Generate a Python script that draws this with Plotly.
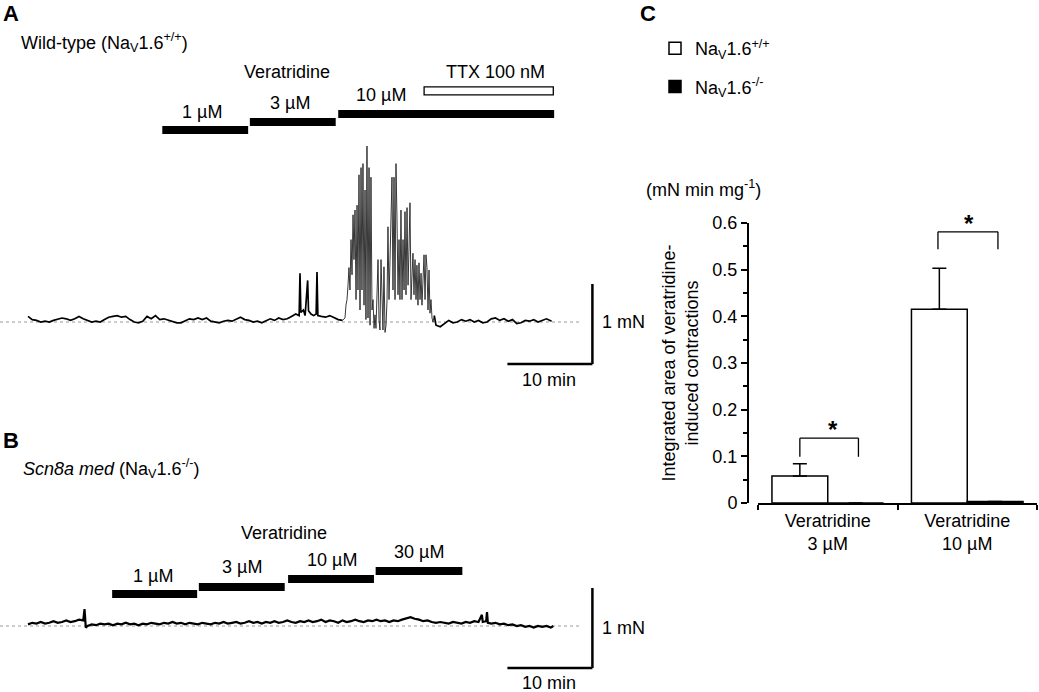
import plotly.graph_objects as go

W, H = 1039, 692
FONT = "Arial, 'Liberation Sans', sans-serif"
FS = 18

# ---------------- Panel A: wild-type force trace (min, mN above baseline)
a_time_rest = [0.0, 0.5, 1.0, 1.5, 2.0, 2.5, 3.0, 3.5, 4.0, 4.5, 5.0, 5.5, 6.0, 6.5, 7.0, 7.5,
               8.0, 8.5, 9.0, 9.5, 10.0, 10.5, 11.0, 11.5, 12.0, 12.5, 13.0, 13.5, 14.0, 14.5,
               15.0, 15.5, 16.0, 16.5, 17.0, 17.5, 18.0, 18.5, 19.0, 19.5, 20.0, 20.5, 21.0,
               21.5, 22.0, 22.5, 23.0, 23.5, 24.0, 24.5, 25.0, 25.5, 26.0, 26.5, 27.0, 27.5,
               28.0, 28.5, 29.0, 29.5, 30.0, 30.5, 31.0, 31.5, 31.9, 32.0, 32.1, 32.4, 32.6,
               32.9, 33.0, 33.3, 33.6, 33.9, 34.0, 34.1, 34.5, 35.0, 35.5, 36.0, 36.5, 37.0]
a_force_rest = [0.07, 0.03, 0.02, 0.0, 0.01, 0.0, 0.02, 0.04, 0.05, 0.04, 0.02, 0.04, 0.07, 0.04,
                0.02, 0.0, 0.01, 0.0, 0.03, 0.06, 0.07, 0.08, 0.06, 0.07, 0.03, 0.0, -0.01, 0.01,
                0.07, 0.04, 0.08, 0.03, 0.04, 0.02, 0.0, -0.01, -0.01, 0.02, 0.04, 0.03, 0.05,
                0.03, 0.05, 0.01, 0.0, -0.01, 0.01, 0.02, 0.01, 0.03, 0.06, 0.03, 0.02, 0.0, 0.01,
                -0.01, 0.02, 0.04, 0.02, 0.05, 0.03, 0.04, 0.07, 0.1, 0.08, 0.61, 0.12, 0.15,
                0.08, 0.52, 0.14, 0.1, 0.08, 0.1, 0.625, 0.08, 0.07, 0.06, 0.08, 0.05, 0.03, 0.02]
a_time_burst = [37.29, 37.41, 37.53, 37.65, 37.76, 37.88, 38.00, 38.12, 38.24, 38.35, 38.47,
                38.59, 38.71, 38.82, 38.94, 39.06, 39.18, 39.29, 39.41, 39.53, 39.65, 39.76,
                39.88, 40.00, 40.12, 40.24, 40.35, 40.47, 40.59, 40.71, 40.82, 40.94, 41.06,
                41.18, 41.29, 41.41, 41.53, 41.65, 41.76, 41.88, 42.00, 42.12, 42.24, 42.35,
                42.47, 42.59, 42.71, 42.82, 42.94, 43.06, 43.18, 43.29, 43.41, 43.53, 43.65,
                43.76, 43.88, 44.00, 44.12, 44.24, 44.35, 44.47, 44.59, 44.71, 44.82, 44.94,
                45.06, 45.18, 45.29, 45.41, 45.53, 45.65, 45.76, 45.88, 46.00, 46.12, 46.24,
                46.35, 46.47, 46.59, 46.71, 46.82, 46.94, 47.06, 47.18, 47.29, 47.41, 47.53, 47.65]
a_force_burst = [0.05, 0.21, 0.28, 0.46, 0.68, 0.40, 1.03, 0.59, 1.34, 0.78, 1.40, 0.28, 1.46,
                 0.40, 1.84, 0.15, 1.93, 0.40, 1.98, 0.21, 1.65, 0.03, 2.20, 0.05, 1.93, -0.04,
                 1.81, 0.15, 0.28, -0.08, 0.09, -0.08, 0.28, 0.78, 0.03, -0.10, 0.78, 0.15, -0.10,
                 0.69, -0.13, -0.04, 0.28, 1.19, 0.28, 0.78, 1.53, 1.81, 0.40, 1.81, 0.28, 1.98,
                 1.31, 0.34, 1.03, 0.28, 1.40, 0.28, 1.03, 0.40, 1.38, 0.34, 1.43, 0.46, 0.90,
                 1.49, 0.28, 0.71, 0.86, 0.34, 0.78, 0.28, 0.71, 0.21, 0.74, 0.28, 0.61, 0.21,
                 0.61, 0.84, 0.28, 0.84, 0.68, 0.15, 0.65, 0.11, 0.28, 0.05, 0.00]
a_time_wash = [47.8, 48.0, 48.5, 49.0, 49.5, 50.0, 50.5, 51.0, 51.5, 52.0, 52.5, 53.0, 53.5,
               54.0, 54.5, 55.0, 55.5, 56.0, 56.5, 57.0, 57.5, 58.0, 58.5, 59.0, 59.5, 60.0,
               60.5, 61.0, 61.6]
a_force_wash = [0.08, -0.04, -0.06, -0.02, 0.02, -0.01, 0.0, 0.03, 0.01, 0.03, 0.0, 0.02, -0.01,
                0.0, 0.04, 0.05, 0.02, 0.04, 0.01, 0.03, -0.02, -0.01, 0.02, 0.01, 0.03, 0.0,
                0.02, 0.04, 0.01]

# ---------------- Panel B: Scn8a med force trace
b_time = [0.0, 0.5, 1.0, 1.5, 2.0, 2.5, 3.0, 3.5, 4.0, 4.5, 5.0, 5.5, 6.0, 6.5, 6.65, 6.8,
          7.0, 7.5, 8.0, 8.5, 9.0, 9.5, 10.0, 10.5, 11.0, 11.5, 12.0, 12.5, 13.0, 13.5, 14.0,
          14.5, 15.0, 15.5, 16.0, 16.5, 17.0, 17.5, 18.0, 18.5, 19.0, 19.5, 20.0, 20.5, 21.0,
          21.5, 22.0, 22.5, 23.0, 23.5, 24.0, 24.5, 25.0, 25.5, 26.0, 26.5, 27.0, 27.5, 28.0,
          28.5, 29.0, 29.5, 30.0, 30.5, 31.0, 31.5, 32.0, 32.5, 33.0, 33.5, 34.0, 34.5, 35.0,
          35.5, 36.0, 36.5, 37.0, 37.5, 38.0, 38.5, 39.0, 39.5, 40.0, 40.5, 41.0, 41.5, 42.0,
          42.5, 43.0, 43.5, 44.0, 44.5, 45.0, 45.5, 46.0, 46.5, 47.0, 47.5, 48.0, 48.5, 49.0,
          49.5, 50.0, 50.5, 51.0, 51.5, 52.0, 52.5, 53.0, 53.4, 53.5, 53.9, 54.0, 54.1, 54.5,
          55.0, 55.5, 56.0, 56.5, 57.0, 57.5, 58.0, 58.5, 59.0, 59.5, 60.0, 60.5, 61.0, 61.5, 61.8]
b_force = [0.02, 0.04, 0.03, 0.05, 0.03, 0.04, 0.06, 0.04, 0.05, 0.07, 0.05, 0.06, 0.08, 0.07,
           0.21, -0.02,
           0.0, 0.02, 0.01, 0.03, 0.02, 0.03, 0.01, 0.03, 0.02, 0.04, 0.02, 0.03, 0.01, 0.03, 0.02,
           0.04, 0.03, 0.02, 0.04, 0.03, 0.05, 0.03, 0.04, 0.02, 0.04, 0.03, 0.02, 0.04, 0.03,
           0.02, 0.04, 0.03, 0.05, 0.03, 0.04, 0.05, 0.03, 0.04, 0.06, 0.04, 0.05, 0.03, 0.05,
           0.04, 0.06, 0.04, 0.05, 0.07, 0.05, 0.04, 0.06, 0.05, 0.07, 0.05, 0.06, 0.08, 0.05,
           0.07, 0.06, 0.04, 0.07, 0.05, 0.06, 0.08, 0.06, 0.05, 0.07, 0.06, 0.08, 0.06, 0.07,
           0.05, 0.07, 0.06, 0.08, 0.10, 0.11, 0.09, 0.08, 0.06, 0.07, 0.05, 0.04, 0.05, 0.04,
           0.03, 0.05, 0.04, 0.03, 0.05, 0.04, 0.06, 0.05, 0.14, 0.05, 0.06, 0.175, 0.04, 0.03,
           0.04, 0.02, 0.03, 0.01, 0.02, 0.0, 0.01, -0.01, 0.0, -0.02, 0.0, -0.01, 0.0, -0.02, 0.0]

# ---------------- Drug applications (min)
a_drug_labels = ["1 µM", "3 µM", "10 µM"]
a_drug_start = [15.8, 26.1, 36.5]
a_drug_end = [25.9, 36.2, 61.9]
ttx_start, ttx_end = 46.6, 61.8
b_drug_labels = ["1 µM", "3 µM", "10 µM", "30 µM"]
b_drug_start = [9.9, 20.1, 30.6, 40.9]
b_drug_end = [19.9, 30.2, 40.7, 51.1]

scale_time = 10    # min
scale_force = 1    # mN

# ---------------- Panel C
c_categories = ["Veratridine<br>3 µM", "Veratridine<br>10 µM"]
wt_mean = [0.058, 0.415]
wt_sem = [0.026, 0.088]
ko_mean = [0.0, 0.003]
ko_sem = [0.0, 0.0]

# ---------------- layout helpers (pixel -> paper)
def px(x):
    return x / W

def py(y):
    return 1 - y / H

PPM, T0, PPN = 8.5, 28, 80       # px per min, px of t=0, px per mN

def t_range(x0, x1):
    return [(x0 - T0) / PPM, (x1 - T0) / PPM]

def f_range(base, top, bottom):
    return [(base - bottom) / PPN, (base - top) / PPN]

fig = go.Figure()

# traces, panel A (quiet parts drawn heavier, burst thinner)
common = dict(mode="lines", xaxis="x", yaxis="y", showlegend=False, hoverinfo="skip")
fig.add_trace(go.Scatter(x=a_time_rest, y=a_force_rest, line=dict(color="black", width=1.7), **common))
fig.add_trace(go.Scatter(x=[a_time_rest[-1]] + a_time_burst + [a_time_wash[0]],
                         y=[a_force_rest[-1]] + a_force_burst + [a_force_wash[0]],
                         line=dict(color="#222222", width=0.9), **common))
fig.add_trace(go.Scatter(x=a_time_wash, y=a_force_wash, line=dict(color="black", width=1.7), **common))
# panel B
fig.add_trace(go.Scatter(x=b_time, y=b_force, mode="lines",
                         line=dict(color="black", width=2.2),
                         xaxis="x2", yaxis="y2", showlegend=False, hoverinfo="skip"))

a_levels = [2.4, 2.5, 2.6]
for s, e, lv in zip(a_drug_start, a_drug_end, a_levels):
    fig.add_trace(go.Scatter(x=[s, e], y=[lv, lv], mode="lines",
                             line=dict(color="black", width=8),
                             xaxis="x", yaxis="y", showlegend=False, hoverinfo="skip"))
b_levels = [0.4, 0.4875, 0.5875, 0.6875]
for s, e, lv in zip(b_drug_start, b_drug_end, b_levels):
    fig.add_trace(go.Scatter(x=[s, e], y=[lv, lv], mode="lines",
                             line=dict(color="black", width=8),
                             xaxis="x2", yaxis="y2", showlegend=False, hoverinfo="skip"))

# bars (panel C)
fig.add_trace(go.Bar(x=c_categories, y=wt_mean, name="Na<sub>V</sub>1.6<sup>+/+</sup>",
                     marker=dict(color="white", line=dict(color="black", width=1.5)),
                     error_y=dict(type="data", array=wt_sem, arrayminus=[0, 0], symmetric=False,
                                  color="black", thickness=1.5, width=7),
                     xaxis="x3", yaxis="y3", legendgroup="wt"))
fig.add_trace(go.Bar(x=c_categories, y=ko_mean, name="Na<sub>V</sub>1.6<sup>-/-</sup>",
                     marker=dict(color="black", line=dict(color="black", width=1.5)),
                     error_y=dict(type="data", array=ko_sem, arrayminus=[0, 0], symmetric=False,
                                  color="black", thickness=1.5, width=7),
                     xaxis="x3", yaxis="y3", legendgroup="ko"))

shapes = []
for xa, ya in (("x", "y"), ("x2", "y2")):
    # baseline
    shapes.append(dict(type="line", xref=xa, yref=ya, x0=t_range(0, 0)[0], x1=t_range(0, 582)[1],
                       y0=0, y1=0, line=dict(color="#9a9a9a", width=1.2, dash="dot"), layer="below"))
    # scale bars
    sx1 = 66.4
    sy0 = -0.525
    shapes.append(dict(type="line", xref=xa, yref=ya, x0=sx1 - scale_time, x1=sx1, y0=sy0, y1=sy0,
                       line=dict(color="black", width=2.5)))
    shapes.append(dict(type="line", xref=xa, yref=ya, x0=sx1, x1=sx1, y0=sy0, y1=sy0 + scale_force,
                       line=dict(color="black", width=2.5)))
# TTX bar
shapes.append(dict(type="rect", xref="x", yref="y", x0=ttx_start, x1=ttx_end, y0=2.84, y1=2.94,
                   line=dict(color="black", width=1.3), fillcolor="white"))
# significance brackets
for xl, xr, ytop, ybot in ((-0.2, 0.22, 0.139, 0.099), (0.79, 1.22, 0.581, 0.544)):
    for seg in ((xl, xl, ybot, ytop), (xl, xr, ytop, ytop), (xr, xr, ytop, ybot)):
        shapes.append(dict(type="line", xref="x3", yref="y3", x0=seg[0], x1=seg[1],
                           y0=seg[2], y1=seg[3], line=dict(color="black", width=1.3)))

annotations = []

def note(text, x, y, xanchor="center", size=FS, **kw):
    annotations.append(dict(text=text, x=px(x), y=py(y), xref="paper", yref="paper",
                            xanchor=xanchor, yanchor="middle", showarrow=False,
                            font=dict(size=size, family=FONT, color="black"), **kw))

note("<b>A</b>", 1, 14, "left", 22)
note("Wild-type (Na<sub>V</sub>1.6<sup>+/+</sup>)", 19, 43, "left")
note("Veratridine", 287, 72)
note("TTX 100 nM", 495, 72)
note(a_drug_labels[2], 381, 95)
note(a_drug_labels[1], 290, 103)
note(a_drug_labels[0], 202, 112)
note("1 mN", 600, 322, "left")
note("10 min", 549, 380)

note("<b>B</b>", 1, 440, "left", 22)
note("<i>Scn8a med</i> (Na<sub>V</sub>1.6<sup>-/-</sup>)", 21, 468, "left")
note("Veratridine", 284, 533)
note(b_drug_labels[0], 153, 576)
note(b_drug_labels[1], 242, 567)
note(b_drug_labels[2], 332, 560)
note(b_drug_labels[3], 419, 552)
note("1 mN", 600, 628, "left")
note("10 min", 549, 683)

note("<b>C</b>", 638, 14, "left", 22)
note("(mN min mg<sup>-1</sup>)", 644, 188, "left")

for xs, ys in ((0.04, 0.139), (1.01, 0.581)):
    annotations.append(dict(text="<b>*</b>", x=xs, y=ys, xref="x3", yref="y3",
                            xanchor="center", yanchor="bottom", showarrow=False, yshift=-7,
                            font=dict(size=24, family=FONT, color="black")))

hidden = dict(visible=False, showgrid=False, zeroline=False)
fig.update_layout(
    width=W, height=H, margin=dict(l=0, r=0, t=0, b=0, pad=0, autoexpand=False),
    paper_bgcolor="white", plot_bgcolor="white",
    font=dict(family=FONT, size=FS, color="black"),
    xaxis=dict(domain=[0, px(623)], range=t_range(0, 623), anchor="y", **hidden),
    yaxis=dict(domain=[py(420), py(60)], range=f_range(322, 60, 420), anchor="x", **hidden),
    xaxis2=dict(domain=[0, px(623)], range=t_range(0, 623), anchor="y2", **hidden),
    yaxis2=dict(domain=[0, py(420)], range=f_range(626, 420, 692), anchor="x2", **hidden),
    xaxis3=dict(domain=[px(758), px(1037)], anchor="y3", type="category", automargin=False,
                showline=True, linecolor="black", linewidth=2, ticks="outside",
                tickson="boundaries", ticklen=5, tickwidth=1.5, tickcolor="black",
                showgrid=False, zeroline=False, tickfont=dict(size=FS)),
    yaxis3=dict(domain=[py(503), py(223)], range=[0, 0.6], anchor="free", position=px(748),
                automargin=False,
                showline=True, linecolor="black", linewidth=2, ticks="outside", ticklen=6,
                tickwidth=1.5, tickcolor="black", dtick=0.1, showgrid=False, zeroline=False,
                minor=dict(dtick=0.05, ticks="outside", ticklen=4, tickwidth=1.5, tickcolor="black"),
                tickfont=dict(size=FS),
                title=dict(text="Integrated area of veratridine-<br>induced contractions",
                           font=dict(size=FS), standoff=8)),
    barmode="group", bargap=0.2, bargroupgap=0,
    legend=dict(x=px(655), y=py(30), xanchor="left", yanchor="top", font=dict(size=FS),
                bgcolor="rgba(0,0,0,0)", traceorder="grouped", tracegroupgap=12),
    shapes=shapes, annotations=annotations,
)

fig.write_html("out.html", config={"displayModeBar": False},
               post_script="document.body.style.margin='0';document.body.style.overflow='hidden';")
